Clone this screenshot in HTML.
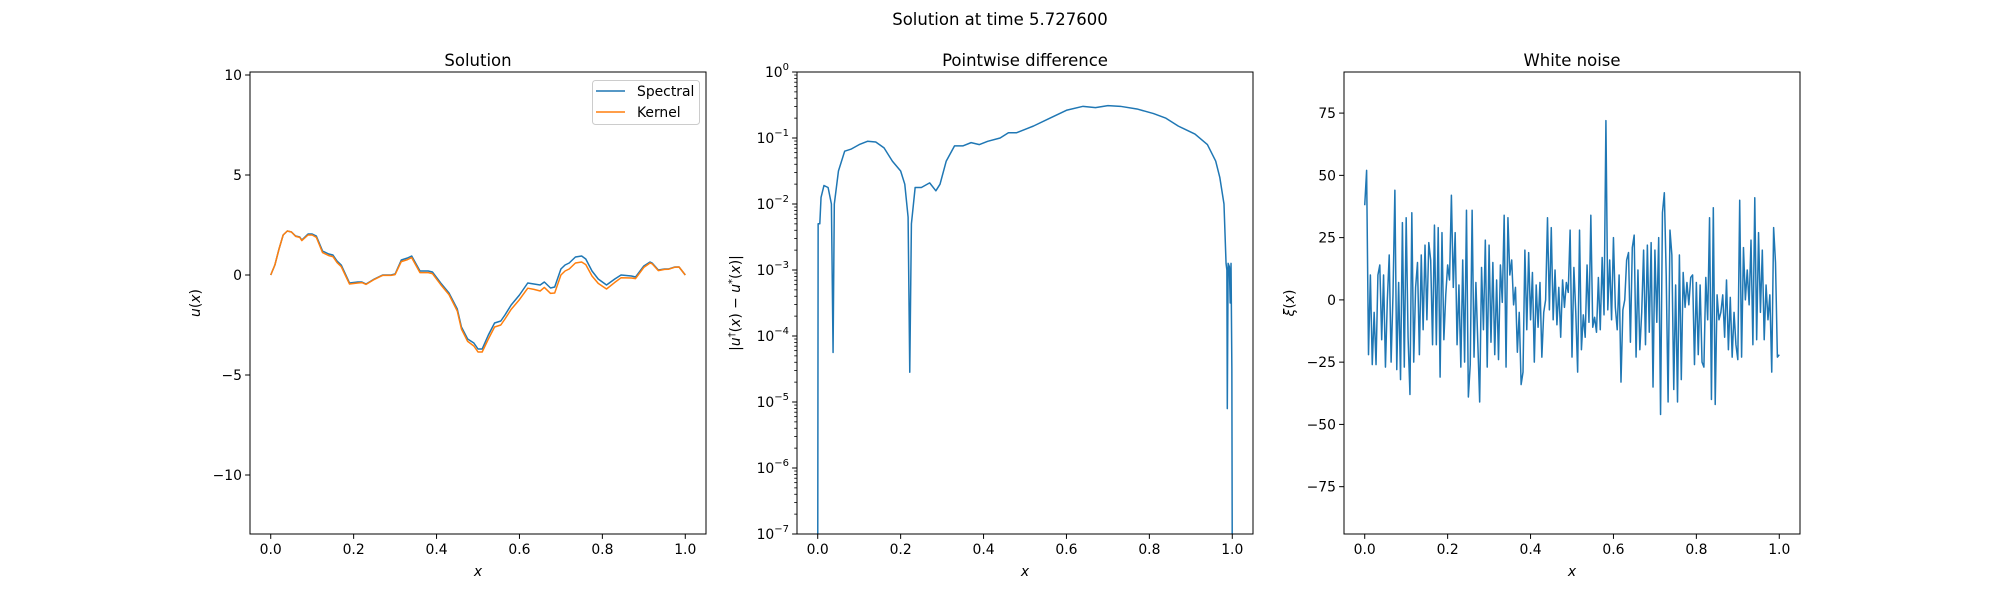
<!DOCTYPE html>
<html><head><meta charset="utf-8"><style>
html,body{margin:0;padding:0;background:#fff;}
svg{display:block;font-family:"DejaVu Sans","Liberation Sans",sans-serif;}
</style></head><body>
<svg id="fig" width="2000" height="600" viewBox="0 0 2000 600" xmlns="http://www.w3.org/2000/svg">
<rect width="2000" height="600" fill="#fff"/>
<text x="1000" y="25" font-size="16.5" text-anchor="middle">Solution at time 5.727600</text>
</svg>
<script>
// ---- data ----
const solX = [0,0.01,0.02,0.03,0.04,0.05,0.06,0.07,0.075,0.09,0.1,0.11,0.125,0.14,0.15,0.16,0.17,0.19,0.21,0.22,0.23,0.25,0.27,0.29,0.3,0.315,0.33,0.34,0.36,0.38,0.39,0.41,0.43,0.45,0.46,0.475,0.49,0.5,0.51,0.525,0.54,0.555,0.565,0.58,0.6,0.62,0.635,0.65,0.66,0.675,0.685,0.7,0.71,0.72,0.735,0.75,0.76,0.775,0.79,0.81,0.83,0.845,0.87,0.88,0.9,0.915,0.92,0.935,0.95,0.96,0.975,0.985,1.0];
const spectralY = [0,0.5,1.3,2.0,2.2,2.15,1.95,1.9,1.75,2.05,2.05,1.95,1.2,1.05,1.0,0.7,0.5,-0.4,-0.35,-0.35,-0.45,-0.2,0.0,0.0,0.05,0.75,0.85,0.95,0.2,0.2,0.15,-0.4,-0.9,-1.7,-2.6,-3.2,-3.4,-3.7,-3.7,-3.0,-2.4,-2.3,-2.0,-1.5,-1.0,-0.4,-0.45,-0.5,-0.35,-0.65,-0.6,0.3,0.5,0.6,0.9,0.95,0.8,0.2,-0.2,-0.5,-0.2,0.0,-0.05,-0.1,0.45,0.65,0.6,0.25,0.3,0.3,0.4,0.4,0.0];
const kernelY = [0,0.5,1.3,2.0,2.2,2.15,1.93,1.88,1.72,2.0,2.0,1.88,1.12,0.97,0.92,0.62,0.42,-0.45,-0.4,-0.38,-0.47,-0.22,-0.02,-0.02,0.02,0.67,0.77,0.87,0.12,0.12,0.07,-0.48,-0.98,-1.8,-2.7,-3.32,-3.55,-3.85,-3.85,-3.2,-2.6,-2.5,-2.2,-1.72,-1.23,-0.66,-0.72,-0.8,-0.62,-0.92,-0.9,0.0,0.2,0.3,0.6,0.65,0.52,-0.05,-0.42,-0.7,-0.37,-0.14,-0.15,-0.18,0.38,0.6,0.56,0.22,0.28,0.29,0.39,0.4,0.0];
const diffX = [0,0.001,0.005,0.008,0.015,0.025,0.033,0.037,0.04,0.05,0.065,0.08,0.1,0.12,0.14,0.16,0.18,0.2,0.21,0.218,0.222,0.226,0.235,0.25,0.27,0.285,0.295,0.31,0.33,0.35,0.37,0.39,0.41,0.44,0.46,0.48,0.52,0.56,0.6,0.64,0.67,0.7,0.73,0.77,0.81,0.84,0.87,0.91,0.94,0.96,0.97,0.98,0.985,0.987,0.988,0.99,0.993,0.995,0.997,0.999,1.0];
const diffLog10 = [-7.5,-2.3,-2.3,-1.9,-1.72,-1.75,-2.0,-4.25,-2.0,-1.5,-1.2,-1.17,-1.1,-1.05,-1.06,-1.15,-1.35,-1.5,-1.7,-2.2,-4.55,-2.3,-1.75,-1.75,-1.68,-1.8,-1.7,-1.35,-1.12,-1.12,-1.07,-1.1,-1.05,-1.0,-0.92,-0.92,-0.82,-0.7,-0.58,-0.52,-0.54,-0.51,-0.52,-0.56,-0.63,-0.7,-0.82,-0.94,-1.1,-1.35,-1.6,-2.0,-2.9,-3.0,-5.1,-2.9,-2.95,-3.5,-2.9,-4.5,-7.5];
const noiseY = [38,52,-22,10,-26,-5,-26,10,14,-16,10,-27,0,18,-25,2,44,-28,7,-32,31,-27,33,-15,-38,35,-25,5,15,-22,18,-12,22,-8,23,16,-18,30,-18,29,-31,27,-16,2,14,8,42,5,27,-18,6,-27,16,-25,36,-39,-26,36,-23,7,-17,-41,13,-12,24,-27,22,-17,15,-22,8,-24,14,-1,34,-27,33,10,16,-2,5,-21,-5,-34,-29,20,-12,19,-8,11,-25,6,-11,7,-23,-5,0,33,-4,29,-8,12,-10,5,-15,8,-3,7,3,28,-23,13,-5,-29,28,-20,-6,-15,14,-9,34,-11,-7,-13,9,-12,17,-6,72,-4,16,-8,25,-3,-12,10,-33,-4,0,16,19,-17,21,26,-23,12,-20,-5,20,-18,22,-13,23,-35,20,-9,25,-46,35,43,10,-41,28,18,-36,6,-41,18,-32,11,-3,7,-2,9,10,-26,7,-22,6,-25,-27,9,-8,33,-40,37,-42,2,-8,-5,2,-15,8,-20,1,-23,-5,-18,-24,40,-23,21,0,12,-2,24,-18,41,-16,27,-5,20,-16,6,-8,2,-29,29,15,-23,-22];
const xTicks = [0.0,0.2,0.4,0.6,0.8,1.0];
const solYTicks = [-10,-5,0,5,10];
const diffYTicksExp = [-7,-6,-5,-4,-3,-2,-1,0];
const noiseYTicks = [-75,-50,-25,0,25,50,75];

const NS="http://www.w3.org/2000/svg";
const svg=document.getElementById('fig');
function mk(tag,attrs,parent){const e=document.createElementNS(NS,tag);for(const k in attrs)e.setAttribute(k,attrs[k]);(parent||svg).appendChild(e);return e;}
const TOP=72,BOT=534;
const FS=13.9;

function makeAxes(name,left,right,ymin,ymax,log){
  const g=mk('g',{});
  
  
  const sx=v=>left+(v+0.05)/1.1*(right-left);
  const sy=log?(v=>BOT-(Math.log10(v)-ymin)/(ymax-ymin)*(BOT-TOP)):(v=>BOT-(v-ymin)/(ymax-ymin)*(BOT-TOP));
  return {g,sx,sy,left,right};
}
function frame(ax){
  const r=mk('rect',{x:ax.left,y:TOP,width:ax.right-ax.left,height:BOT-TOP,fill:'none',stroke:'#000','stroke-width':1},ax.g);
  
  
}
function xAxis(ax){
  xTicks.forEach(t=>{
    const x=ax.sx(t);
    mk('line',{x1:x,x2:x,y1:BOT,y2:BOT+4.9,stroke:'#000','stroke-width':1},ax.g);
    const tx=mk('text',{x:x,y:BOT+20,'font-size':FS,'text-anchor':'middle'},ax.g);
    tx.textContent=t.toFixed(1);
    
    
  });
  const xl=mk('text',{x:(ax.left+ax.right)/2,y:BOT+42,'font-size':FS,'text-anchor':'middle','font-style':'italic'},ax.g);
  xl.textContent='x';
  
  
}
function yTicksLin(ax,ticks,fmt){
  ticks.forEach(t=>{
    const y=ax.sy(t);
    mk('line',{x1:ax.left-4.9,x2:ax.left,y1:y,y2:y,stroke:'#000','stroke-width':1},ax.g);
    const tx=mk('text',{x:ax.left-8,y:y+5,'font-size':FS,'text-anchor':'end'},ax.g);
    tx.textContent=fmt(t);
    
    
  });
}
function title(ax,txt){
  const t=mk('text',{x:(ax.left+ax.right)/2,y:66,'font-size':16.5,'text-anchor':'middle'},ax.g);
  t.textContent=txt;
  
  
}
function ylabel(ax,x,html){
  const t=mk('text',{x:x,y:(TOP+BOT)/2,'font-size':FS,'text-anchor':'middle',transform:`rotate(-90 ${x} ${(TOP+BOT)/2})`},ax.g);
  t.innerHTML=html;
  
  
}
function line(ax,xs,ys,color,name,clip){
  const d=xs.map((x,i)=>(i?'L':'M')+ax.sx(x).toFixed(2)+','+ax.sy(ys[i]).toFixed(2)).join('');
  const p=mk('path',{d:d,fill:'none',stroke:color,'stroke-width':1.5,'stroke-linejoin':'round','clip-path':clip},ax.g);
  
  
}
const minus=v=>(v<0?'\u2212':'')+Math.abs(v);
const defs=mk('defs',{});
[[250,706],[797,1253],[1344,1800]].forEach((a,i)=>{const c=mk('clipPath',{id:'c'+i},defs);mk('rect',{x:a[0],y:TOP,width:a[1]-a[0],height:BOT-TOP},c);});

// Axes 1: solution
const a1=makeAxes('solution-axes',250,706,-12.95,10.15,false);
line(a1,solX,spectralY,'#1f77b4','spectral-line','url(#c0)');
line(a1,solX,kernelY,'#ff7f0e','kernel-line','url(#c0)');
frame(a1);xAxis(a1);yTicksLin(a1,solYTicks,minus);title(a1,'Solution');
ylabel(a1,200,'<tspan font-style="italic">u</tspan>(<tspan font-style="italic">x</tspan>)');
const lg=mk('g',{},a1.g);


mk('rect',{x:592.5,y:80.5,width:107,height:44,rx:3,fill:'#fff',stroke:'#ccc','stroke-width':1},lg);
mk('line',{x1:596,x2:625,y1:91,y2:91,stroke:'#1f77b4','stroke-width':1.5},lg);
mk('line',{x1:596,x2:625,y1:112,y2:112,stroke:'#ff7f0e','stroke-width':1.5},lg);
const l1=mk('text',{x:637,y:96,'font-size':FS},lg);l1.textContent='Spectral';


const l2=mk('text',{x:637,y:117,'font-size':FS},lg);l2.textContent='Kernel';



// Axes 2: log diff
const a2=makeAxes('pointwise-difference-axes',797,1253,-7,0,true);
const diffVals=diffLog10.map(v=>Math.pow(10,v));
line(a2,diffX,diffVals,'#1f77b4','difference-line','url(#c1)');
frame(a2);xAxis(a2);title(a2,'Pointwise difference');
diffYTicksExp.forEach(e=>{
  const y=a2.sy(Math.pow(10,e));
  mk('line',{x1:797-4.9,x2:797,y1:y,y2:y,stroke:'#000','stroke-width':1},a2.g);
  const tx=mk('text',{x:797-8,y:y+5,'font-size':FS,'text-anchor':'end'},a2.g);
  tx.innerHTML='10<tspan dy="-7" font-size="10">'+(e<0?'\u2212':'')+Math.abs(e)+'</tspan>';
  
  
  if(e<0){for(let m=2;m<10;m++){const ym=a2.sy(m*Math.pow(10,e));mk('line',{x1:797-2.8,x2:797,y1:ym,y2:ym,stroke:'#000','stroke-width':0.8},a2.g);}}
});
ylabel(a2,740,'|<tspan font-style="italic">u</tspan><tspan dy="-5" font-size="10">\u2020</tspan><tspan dy="5">(</tspan><tspan font-style="italic">x</tspan>) \u2212 <tspan font-style="italic">u</tspan><tspan dy="-5" font-size="10">*</tspan><tspan dy="5">(</tspan><tspan font-style="italic">x</tspan>)|');

// Axes 3: white noise
const a3=makeAxes('white-noise-axes',1344,1800,-94,91.5,false);
const noiseX=noiseY.map((v,i)=>i/(noiseY.length-1));
line(a3,noiseX,noiseY,'#1f77b4','noise-line','url(#c2)');
frame(a3);xAxis(a3);yTicksLin(a3,noiseYTicks,minus);title(a3,'White noise');
ylabel(a3,1294,'<tspan font-style="italic">\u03be</tspan>(<tspan font-style="italic">x</tspan>)');
</script>
</body></html>
